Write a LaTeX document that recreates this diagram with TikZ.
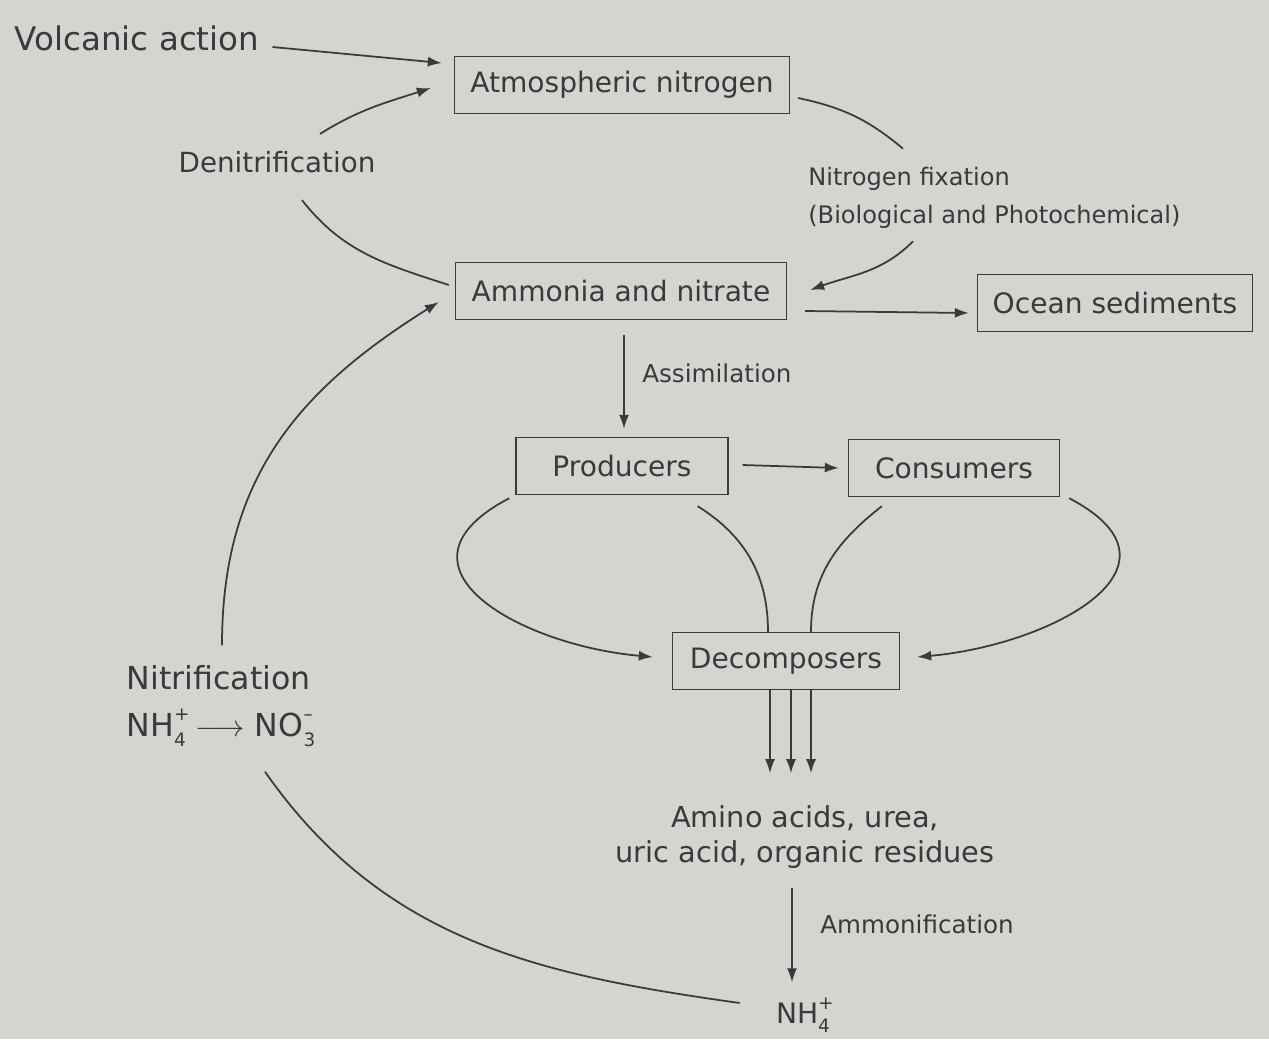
\documentclass[tikz,border=0pt]{standalone}
\usepackage{fontspec}
\setmainfont{DejaVu Sans}
\usetikzlibrary{calc,arrows.meta}

\definecolor{paper}{RGB}{212,213,208}
\definecolor{ink}{RGB}{58,58,58}

% ion with stacked charge and index
\newcommand{\ionsub}[2]{\rlap{\raisebox{0.95ex}{\fontsize{10.5}{10.5}\selectfont #1}}\raisebox{-0.55ex}{\fontsize{10.5}{10.5}\selectfont #2}}

\begin{document}
\begin{tikzpicture}[x=0.02cm,y=0.02cm]
\tikzstyle{box}=[draw=ink,line width=0.8pt,text=ink,minimum height=1.14cm,inner sep=0pt,font=\fontsize{16}{19}\selectfont]
\tikzstyle{lbl}=[text=ink,inner sep=0pt]
\tikzstyle{arr}=[draw=ink,line width=1pt,-{Latex[length=0.28cm,width=0.2cm]}]
\tikzstyle{ln}=[draw=ink,line width=1pt]

	\fill[paper] (0,0) rectangle (1269,-1039);

	% boxes
	\node (atm) [box,minimum width=6.7cm] at (622,-85) {Atmospheric nitrogen};
	\node (amm) [box,minimum width=6.62cm] at (621,-291) {Ammonia and nitrate};
	\node (ocean) [box,minimum width=5.5cm] at (1115,-303) {Ocean sediments};
	\node (prod) [box,minimum width=4.24cm] at (622,-466) {Producers};
	\node (cons) [box,minimum width=4.22cm] at (954,-468) {Consumers};
	\node (dec) [box,minimum width=4.54cm] at (786,-661) {Decomposers};

	% labels
	\node (volc) [lbl,font=\fontsize{18.5}{22}\selectfont] at (137,-38) {Volcanic action};
	\node (denit) [lbl,font=\fontsize{15.8}{19}\selectfont] at (277,-162) {Denitrification};
	\node (fix) [lbl,anchor=west,align=left,font=\fontsize{13.7}{22}\selectfont] at (808,-198) {Nitrogen fixation\\(Biological and Photochemical)};
	\node (assim) [lbl,anchor=west,font=\fontsize{14}{17}\selectfont] at (642,-373) {Assimilation};
	\node (amino) [lbl,align=center,font=\fontsize{16.4}{19.4}\selectfont] at (805,-837) {Amino acids, urea,\\uric acid, organic residues};
	\node (ammonif) [lbl,anchor=west,font=\fontsize{14}{17}\selectfont] at (820,-924) {Ammonification};
	\node (nh4) [lbl,font=\fontsize{16}{19}\selectfont] at (803,-1015) {NH\ionsub{+}{4}};
	\node (nitr) [lbl,align=left,font=\fontsize{18}{26.7}\selectfont] at (221,-706) {Nitrification\\NH\ionsub{+}{4} $\longrightarrow$ NO\ionsub{--}{3}};

	% top part
	\draw[arr] ($(volc.east)+(13,-9)$) -- ($(atm.west)+(-12,22)$);
	\draw[arr] ($(denit.north)+(43,17)$) to[out=32,in=198] ($(atm.west)+(-23,-3)$);
	\draw[ln] ($(denit.south)+(25,-27)$) to[out=-52,in=162] ($(amm.west)+(-6,6)$);
	\draw[ln] ($(atm.east)+(8,-13)$) to[out=-12,in=140] ($(fix.north west)+(95,18)$);
	\draw[arr] ($(fix.south west)+(105,-12)$) to[out=225,in=20] ($(amm.east)+(23,1)$);
	\draw[arr] ($(amm.east)+(18,-20)$) -- ($(ocean.west)+(-8,-10)$);
	\draw[arr] ($(amm.south)+(3,-15)$) -- ($(prod.north)+(2,8)$);
	\draw[arr] ($(prod.east)+(14,1)$) -- ($(cons.west)+(-9,0)$);

	% to decomposers
	\draw[arr] ($(prod.south west)+(-6,-3)$) .. controls +(-130,-68) and +(-134,12) .. ($(dec.west)+(-19,4)$);
	\draw[arr] ($(cons.south east)+(9,-1)$) .. controls +(130,-68) and +(134,12) .. ($(dec.east)+(17,4)$);
	\draw[ln] ($(prod.south east)+(-31,-11)$) to[out=-32,in=90] ($(dec.north)+(-18,0)$);
	\draw[ln] ($(cons.south west)+(34,-9)$) to[out=218,in=90] ($(dec.north)+(25,0)$);

	\foreach \dx in {-16,5,25}
		\draw[arr] ($(dec.south)+(\dx,0)$) -- ++(0,-83);

	% back to the soil
	\draw[arr] ($(amino.south)+(-13,-20)$) -- ($(nh4.north)+(-11,15)$);
	\draw[ln] ($(nh4.west)+(-36,12)$) to[out=172,in=-55] ($(nitr.south)+(44,-25)$);
	\draw[arr] ($(nitr.north)+(1,20)$) to[out=90,in=212,looseness=1.05] ($(amm.west)+(-16,-11)$);

\end{tikzpicture}
\end{document}
